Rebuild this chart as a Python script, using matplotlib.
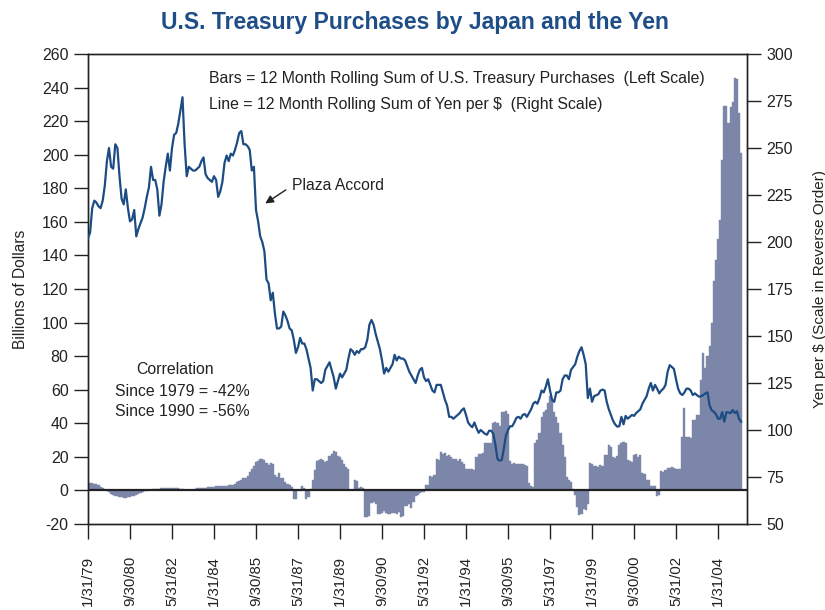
import matplotlib
matplotlib.use("Agg")
import matplotlib.pyplot as plt
import numpy as np

plt.rcParams['font.family'] = ['Liberation Sans', 'DejaVu Sans']
plt.rcParams['axes.unicode_minus'] = False

# ---- data (monthly, Jan 1979 .. Dec 2004) ----
tick_labels = ["1/31/79", "9/30/80", "5/31/82", "1/31/84", "9/30/85", "5/31/87",
               "1/31/89", "9/30/90", "5/31/92", "1/31/94", "9/30/95", "5/31/97",
               "1/31/99", "9/30/00", "5/31/02", "1/31/04"]

# 12 month rolling sum of U.S. Treasury purchases by Japan (billions of dollars)
purchases = [
    4.5, 4.6, 4.4, 4.0, 3.6, 3.0, 2.2, 1.3, 0.4, -0.4, -1.2, -2.0,            # 1979
    -2.6, -3.1, -3.5, -3.9, -4.1, -4.3, -4.3, -4.2, -4.0, -3.6, -3.1, -2.5,   # 1980
    -1.9, -1.3, -0.8, -0.4, -0.1, 0.3, 0.5, 0.6, 0.6, 0.8, 1.0, 1.2,          # 1981
    1.3, 1.4, 1.5, 1.4, 1.5, 1.3, 1.4, 1.2, 1.0, 0.8, 0.4, 0.2,               # 1982
    0.2, 0.3, 0.2, 0.8, 1.2, 1.4, 1.5, 1.6, 1.7, 1.8, 2.0, 2.1,               # 1983
    2.2, 2.4, 2.5, 2.6, 2.6, 2.8, 2.9, 3.0, 3.2, 3.4, 3.8, 4.8,               # 1984
    5.6, 6.0, 7.2, 7.6, 8.4, 11.0, 12.8, 14.5, 17.0, 17.6, 18.5, 18.6,        # 1985
    18.0, 16.5, 15.0, 16.2, 16.0, 9.0, 8.2, 10.5, 7.6, 7.2, 4.8, 3.6,         # 1986
    3.0, 2.2, -5.4, -5.0, 0.5, -0.3, 2.4, 1.5, -5.4, -4.0, 0.8, 6.5,          # 1987
    12.0, 17.5, 18.0, 18.6, 18.4, 17.0, 17.5, 20.4, 22.0, 23.4, 23.0, 20.4,   # 1988
    20.0, 18.0, 15.5, 14.0, 12.5, 0.2, 0.3, 6.0, 5.5, 1.6, 1.8, 1.4,          # 1989
    -15.7, -15.7, -15.0, -7.3, -7.0, -8.0, -14.3, -14.0, -13.3, -12.5, -13.5, -14.3,  # 1990
    -14.0, -13.5, -13.3, -14.0, -13.0, -15.7, -15.0, -9.3, -9.5, -8.0, -10.3, -7.0,   # 1991
    -3.4, -3.0, -1.4, -1.2, -1.0, 3.5, 3.0, 8.5, 8.0, 9.0, 18.5, 18.0,        # 1992
    22.8, 22.0, 22.5, 20.4, 21.0, 20.0, 18.5, 18.5, 17.5, 18.5, 17.0, 16.0,   # 1993
    12.5, 12.5, 12.5, 12.5, 12.0, 20.0, 22.0, 22.0, 22.5, 28.0, 28.0, 28.5,   # 1994
    28.5, 40.3, 40.5, 40.0, 38.5, 47.0, 46.5, 47.2, 45.5, 17.5, 16.0, 16.2,   # 1995
    16.0, 15.5, 15.8, 16.0, 15.0, 14.5, 4.5, 2.5, 2.0, 28.0, 30.0, 34.0,      # 1996
    44.0, 46.5, 48.0, 52.0, 56.0, 54.0, 47.0, 44.0, 40.0, 34.0, 27.0, 20.0,   # 1997
    8.0, 6.5, 5.0, 1.0, -3.0, -10.0, -14.5, -14.0, -11.0, -11.5, -8.0, 16.5,  # 1998
    16.0, 14.5, 14.5, 14.0, 15.0, 14.5, 21.4, 21.0, 27.0, 26.0, 20.0, 19.5,   # 1999
    20.5, 27.0, 28.0, 29.0, 28.5, 18.0, 17.5, 17.0, 21.0, 21.5, 20.0, 21.0,   # 2000
    10.5, 10.0, 6.5, 6.0, 2.6, 2.5, 2.6, -3.4, -3.0, 11.5, 11.0, 12.0,        # 2001
    13.5, 13.5, 14.0, 13.5, 13.0, 13.0, 12.5, 32.0, 49.0, 32.0, 32.0, 31.0,   # 2002
    42.0, 42.0, 45.0, 45.0, 66.0, 82.0, 73.0, 80.0, 86.0, 100.0, 125.0, 137.0,  # 2003
    150.0, 161.0, 197.0, 229.0, 229.0, 219.0, 228.5, 231.5, 246.0, 245.0, 225.0, 201.0,  # 2004
]

# Yen per dollar (right scale)
yen = [
    202, 205, 218, 222, 221, 219, 218, 222, 230, 243, 250, 240,   # 1979
    239, 252, 250, 235, 223, 220, 228, 218, 211, 212, 217, 203,   # 1980
    207, 210, 213, 218, 224, 229, 240, 233, 233, 228, 214, 220,   # 1981
    232, 240, 247, 238, 250, 257, 258, 263, 270, 277, 252, 235,   # 1982
    240, 239, 238, 238, 239, 240, 243, 245, 236, 234, 233, 232,   # 1983
    235, 233, 224, 227, 232, 242, 246, 243, 247, 246, 249, 253,   # 1984
    258, 259, 252, 252, 251, 249, 238, 240, 217, 211, 203, 200,   # 1985
    195, 180, 178, 169, 173, 162, 154, 154, 155, 163, 161, 158,   # 1986
    154, 153, 148, 141, 144, 149, 146, 146, 143, 138, 133, 121,   # 1987
    127, 127, 126, 125, 126, 132, 134, 136, 132, 128, 122, 126,   # 1988
    130, 128, 130, 132, 138, 143, 142, 140, 142, 141, 143, 143,   # 1989
    144, 148, 156, 158.5, 156, 151, 147, 143, 137, 130, 133, 131,  # 1990
    133, 135, 140, 137, 139, 138, 138, 137, 134, 131, 129, 127,   # 1991
    125, 129, 132, 133, 128, 126, 127, 124, 121, 120, 124, 124,   # 1992
    124, 120, 116, 113, 107, 107, 106, 107, 108, 109, 110.6, 111.5,  # 1993
    108, 104, 102.5, 101.5, 104, 101, 98.5, 100, 99, 98, 97.5, 99.6,  # 1994
    99.6, 98, 92, 84.5, 83.7, 84, 90, 97, 100, 102, 102, 104,     # 1995
    106.5, 107, 106, 108, 108.5, 107, 109, 111, 114, 115, 114, 117,  # 1996
    121, 120, 123, 127, 121, 116, 115, 120, 120, 121, 127, 129,   # 1997
    129, 127, 132, 133.5, 135, 139, 142, 144, 140, 135, 117, 122,  # 1998
    115, 118, 118.5, 119, 121, 121.5, 121, 115, 111, 108, 105, 103,  # 1999
    101.8, 102, 107, 103, 107.5, 106, 107, 108, 107.5, 109, 110, 111,  # 2000
    114, 116, 118, 122, 125, 121, 124, 122, 119.5, 121, 122, 124,  # 2001
    131, 134.5, 133.5, 132.5, 127, 122, 119.5, 118.6, 120, 122, 122, 121,  # 2002
    118.6, 119.5, 118.5, 117.7, 118, 118.6, 119.5, 120, 113, 110.5, 109.7, 108.5,  # 2003
    106, 106, 109.5, 104.4, 109.5, 109.3, 109, 110.6, 109, 110, 106, 104.4,  # 2004
]

# ---- plot ----
n = len(purchases)
idx = np.arange(n)
tick_pos = np.arange(0, n, 20)

fig = plt.figure(figsize=(8.25, 6.10), dpi=100)
ax = fig.add_axes([88/825, 1-524/610, (747-88)/825, (524-54)/610])

bar_color = "#7b86a8"
line_color = "#1c4c82"
txt = '#222222'

ax.bar(idx, purchases, width=1.0, color=bar_color, edgecolor=bar_color, linewidth=0.3, zorder=2)
ax.axhline(0, color=txt, lw=1.6, zorder=3)
ax.set_ylim(-20, 260)
ax.set_yticks(np.arange(-20, 261, 20))
ax.set_xlim(0, 313.8)
ax.set_xticks(tick_pos)
ax.set_xticklabels(tick_labels[:len(tick_pos)], rotation=90, fontsize=10.8)
ax.tick_params(axis='x', direction='out', length=11, width=1.0, pad=12, colors=txt)
ax.tick_params(axis='y', direction='out', length=10, width=1.0, pad=4, labelsize=11.5, colors=txt)
for sp in ax.spines.values():
    sp.set_color(txt)
    sp.set_linewidth(1.0)
ax.set_ylabel("Billions of Dollars", fontsize=11.2, labelpad=10, color=txt)

ax2 = ax.twinx()
ax2.plot(idx, yen, color=line_color, lw=1.6, zorder=4)
ax2.set_ylim(50, 300)
ax2.set_yticks(np.arange(50, 301, 25))
ax2.tick_params(axis='y', direction='out', length=10, width=1.0, pad=4, labelsize=11.5, colors=txt)
for sp in ax2.spines.values():
    sp.set_color(txt)
    sp.set_linewidth(1.0)
ax2.set_ylabel("Yen per $ (Scale in Reverse Order)", fontsize=11, labelpad=14, color=txt)
ax2.set_xlim(0, 313.8)

fig.text(415/825, 1-22/610, "U.S. Treasury Purchases by Japan and the Yen",
         ha='center', va='center', fontsize=16.5, fontweight='bold', color='#1f4e87')

fig.text(209/825, 1-79/610, "Bars = 12 Month Rolling Sum of U.S. Treasury Purchases  (Left Scale)",
         ha='left', va='center', fontsize=11.4, color=txt)
fig.text(209/825, 1-104/610, "Line = 12 Month Rolling Sum of Yen per $  (Right Scale)",
         ha='left', va='center', fontsize=11.4, color=txt)

fig.text(175/825, 1-370/610, "Correlation", ha='center', va='center', fontsize=11.4, color=txt)
fig.text(115/825, 1-392/610, "Since 1979 = -42%", ha='left', va='center', fontsize=11.4, color=txt)
fig.text(115/825, 1-411/610, "Since 1990 = -56%", ha='left', va='center', fontsize=11.4, color=txt)

ax2.text(97.2, 230, "Plaza Accord", fontsize=11.3, color=txt, ha='left', va='center')
ax2.annotate("", xy=(84.4, 220.5), xytext=(94.2, 227.7),
             arrowprops=dict(arrowstyle='-|>', color=txt, lw=1.0,
                             shrinkA=0, shrinkB=0, mutation_scale=12))

fig.savefig("out.png", dpi=100)
